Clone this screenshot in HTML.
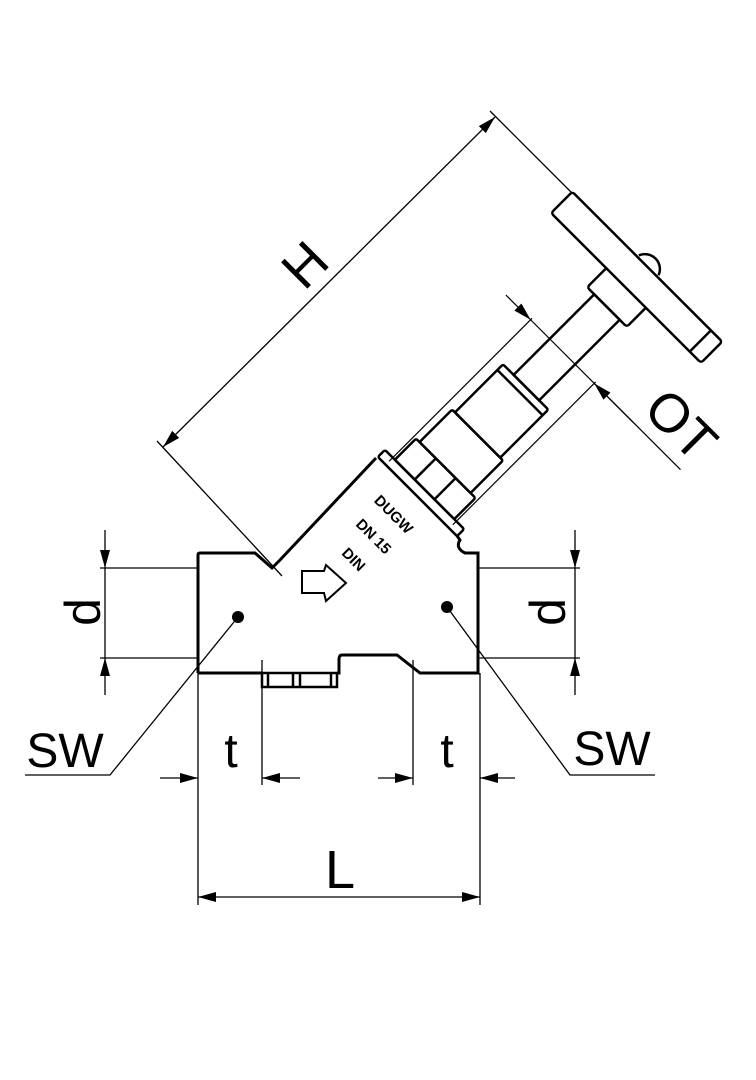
<!DOCTYPE html>
<html><head><meta charset="utf-8"><style>
html,body{margin:0;padding:0;background:#fff;width:756px;height:1080px;overflow:hidden}
svg{display:block}
text{font-family:"Liberation Sans",sans-serif;fill:#000}
</style></head><body>
<svg width="756" height="1080" viewBox="0 0 756 1080" xmlns="http://www.w3.org/2000/svg">
<defs>
<marker id="a" markerWidth="18" markerHeight="10" refX="18" refY="5" orient="auto" markerUnits="userSpaceOnUse">
<path d="M0,0 L18,5 L0,10 z" fill="#000"/></marker>
</defs>
<g stroke="#000" fill="none">
<path stroke-width="3" d="M198,673 L198,555 Q198,553 200,553 L255,553 L272,568 L280,560 L376,458 M455,533 L460,540 Q455,548 465,553 L478,553 L478,673 L420,673 L397,655 L342,655 Q339,655 339,660 L339,673 L337,673 M262,673 L198,673"/>
<path stroke-width="2.5" d="M262,673 L262,687 L337,687 L337,673 L262,673 M268,673 L268,687 M331,673 L331,687 M293,673 L293,687 M300,673 L300,687"/>
<g stroke-width="1.3">
<path d="M100,568 L198,568 M100,658 L198,658 M478,568 L580,568 M478,658 L580,658"/>
<path d="M105,530 L105,568" marker-end="url(#a)"/>
<path d="M105,695 L105,658" marker-end="url(#a)"/>
<path d="M575,530 L575,568" marker-end="url(#a)"/>
<path d="M575,695 L575,658" marker-end="url(#a)"/>
<path d="M105,568 L105,658 M575,568 L575,658"/>
<path d="M198,673 L198,905 M262,660 L262,785 M413,660 L413,785 M480,673 L480,905"/>
<path d="M160,778 L198,778" marker-end="url(#a)"/>
<path d="M300,778 L262,778" marker-end="url(#a)"/>
<path d="M378,778 L413,778" marker-end="url(#a)"/>
<path d="M515,778 L480,778" marker-end="url(#a)"/>
<path d="M340,897 L198,897" marker-end="url(#a)"/>
<path d="M340,897 L480,897" marker-end="url(#a)"/>
<path d="M238,617 L110,775 L25,775 M447,607 L570,775 L655,775"/>
<path d="M329,282 L163,447" marker-end="url(#a)"/>
<path d="M329,282 L495,117" marker-end="url(#a)"/>
<path d="M157,441 L282,576 M490,111 L572,193"/>
</g>
<circle cx="238" cy="617" r="6" fill="#000" stroke="none"/>
<circle cx="447" cy="607" r="6" fill="#000" stroke="none"/>
<path stroke-width="2" d="M302,571 L324,571 L326,565 L346,583 L326,601 L324,593 L302,593 Z"/>
<g transform="translate(421,493) rotate(-45)">
<g stroke-width="2.5">
<path d="M322,-14 A15,15 0 0 1 322,14" />
<rect x="-5" y="-56" width="10" height="112" rx="2" fill="#fff"/>
<rect x="5" y="-42" width="30" height="84" rx="2"/>
<path d="M5,-14 L35,-14 M5,14 L35,14"/>
<rect x="35" y="-37" width="46" height="72" rx="2"/>
<rect x="81" y="-33" width="68" height="64" rx="2"/>
<path d="M141,-33 L141,31"/>
<rect x="149" y="-18" width="114" height="36"/>
<rect x="263" y="-28" width="29" height="56" rx="3"/>
<rect x="290" y="-106" width="30" height="212" rx="3" fill="#fff"/>
<path d="M290,90 L320,90"/>
</g>
<g stroke-width="1.2">
<path d="M0,-45 L202,-45 M0,45 L202,45"/>
<path d="M200,-80 L200,-45" marker-end="url(#a)"/>
<path d="M200,100 L200,45" marker-end="url(#a)"/>
<path d="M200,-45 L200,167"/>
</g>
</g>
</g>
<g font-weight="bold" font-size="15" text-anchor="middle">
<text transform="translate(390,518) rotate(45)">DUGW</text>
<text transform="translate(370,540) rotate(45)">DN 15</text>
<text transform="translate(350,563) rotate(45)">DIN</text>
</g>
<text font-size="50" text-anchor="middle" dominant-baseline="central" transform="translate(83,612) rotate(-90)">d</text>
<text font-size="50" text-anchor="middle" dominant-baseline="central" transform="translate(548,612) rotate(-90)">d</text>
<text x="65" y="767" font-size="48" text-anchor="middle">SW</text>
<text x="612" y="765" font-size="48" text-anchor="middle">SW</text>
<text x="231" y="767" font-size="48" text-anchor="middle">t</text>
<text x="447" y="767" font-size="48" text-anchor="middle">t</text>
<text x="340" y="888" font-size="54" text-anchor="middle">L</text>
<text font-size="54" text-anchor="middle" transform="translate(318,278) rotate(-45)">H</text>
<text font-size="54" text-anchor="middle" transform="translate(668,438) rotate(45)">OT</text>
</svg>
</body></html>
